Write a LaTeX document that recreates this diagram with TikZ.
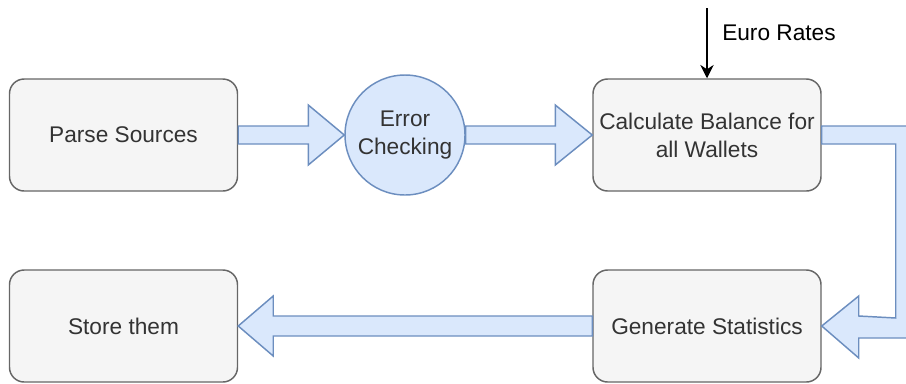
\documentclass[tikz,border=0pt]{standalone}
\usepackage{fontspec}
\setmainfont{Liberation Sans}
\usetikzlibrary{arrows.meta, calc, positioning}
\definecolor{boxfill}{HTML}{F5F5F5}
\definecolor{boxline}{HTML}{666666}
\definecolor{flowfill}{HTML}{DAE8FC}
\definecolor{flowline}{HTML}{6C8EBF}
\definecolor{txt}{HTML}{333333}
\tikzset{>={Stealth[length=10pt, width=10pt]},
         every node/.style = {font=\fontsize{17}{21}\selectfont, text=txt, align=center},
         stage/.style = {draw=boxline, fill=boxfill, line width=1.1pt,
                         rounded corners=11pt, minimum width=171pt,
                         minimum height=84pt, inner sep=0pt},
         check/.style = {circle, draw=flowline, fill=flowfill, line width=1.1pt,
                         minimum size=90pt, inner sep=0pt},
         fat/.style = {draw=flowline, fill=flowfill, line width=1.1pt, line join=miter}}

\begin{document}
\begin{tikzpicture}[x=0.75pt, y=-0.75pt]
    \useasboundingbox (0,0) rectangle (906,383);
    \clip (0,0) rectangle (906,383);

    \node[stage]  (parse) at (123.5,135) {Parse Sources};
    \node[check]  (err)   at (405,135)   {Error\\Checking};
    \node[stage]  (calc)  at (707,135)   {Calculate Balance for\\all Wallets};
    \node[stage]  (gen)   at (707,326)   {Generate Statistics};
    \node[stage]  (store) at (123.5,326) {Store them};

    % euro rates input
    \coordinate (rates) at (707,8);
    \draw[->, line width=1.1pt] (rates) -- (calc.north);
    \node[anchor=west, inner sep=0pt, text=black] (ratelabel) at (722,33) {Euro Rates};

    % block arrows
    \draw[fat] ($(parse.east)+(0,-9)$) -- ($(err.west)+(-36,-9)$) -- ++(0,-21)
               -- (err.west) -- ++(-36,30) -- ++(0,-21) -- ($(parse.east)+(0,9)$) -- cycle;
    \draw[fat] ($(err.east)+(0,-9)$) -- ($(calc.west)+(-37,-9)$) -- ++(0,-21)
               -- (calc.west) -- ++(-37,30) -- ++(0,-21) -- ($(err.east)+(0,9)$) -- cycle;
    \draw[fat] ($(calc.east)+(0,-9)$) -- ++(92,0) -- ($(gen.east)+(92,12)$)
               -- ($(gen.east)+(37,12)$) -- ++(0,20) -- (gen.east) -- ++(37,-30)
               -- ++(0,20) -- ($(gen.east)+(74,-8)$) -- ($(calc.east)+(74,9)$)
               -- ($(calc.east)+(0,9)$) -- cycle;
    \draw[fat] ($(gen.west)+(0,-10)$) -- ($(store.east)+(35,-10)$) -- ++(0,-20)
               -- (store.east) -- ++(35,30) -- ++(0,-20) -- ($(gen.west)+(0,10)$) -- cycle;
\end{tikzpicture}
\end{document}
